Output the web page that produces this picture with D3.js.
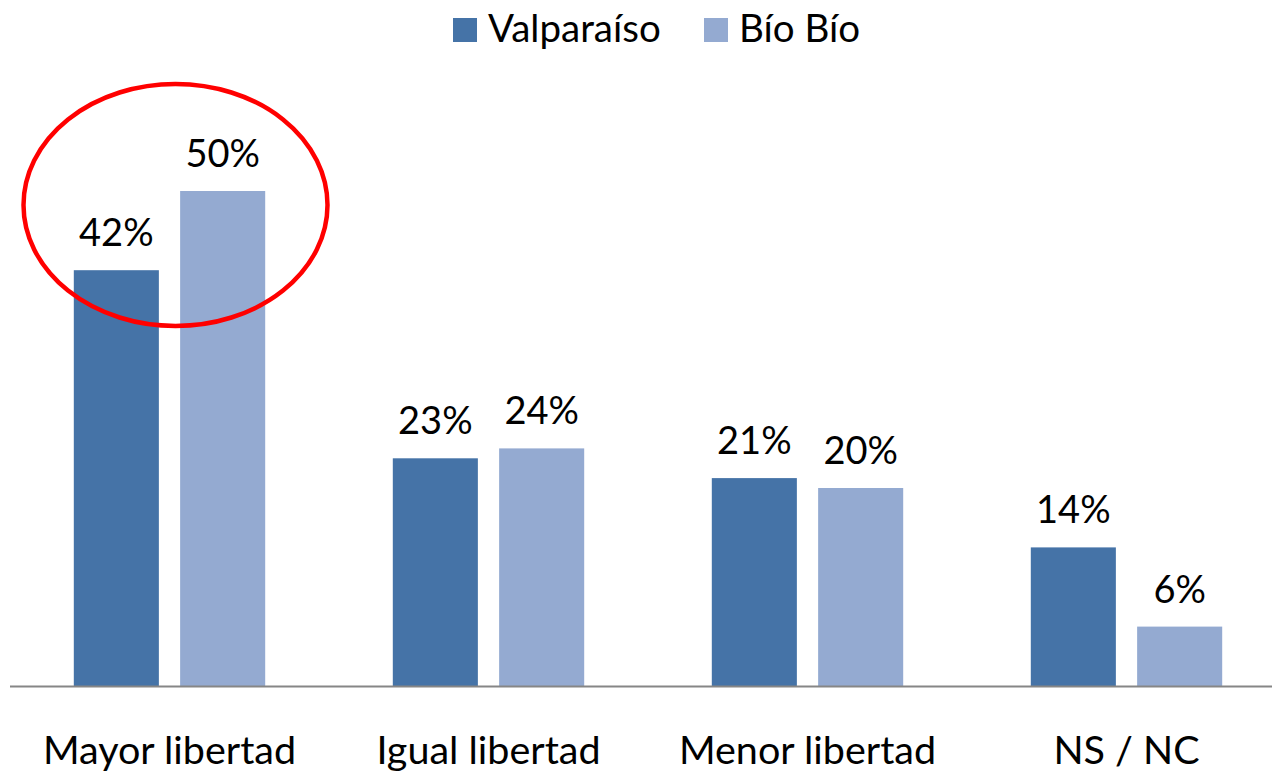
<!DOCTYPE html>
<meta charset="utf-8">
<style>
body{margin:0;background:#fff;}
svg{display:block;font-family:Lato, "Liberation Sans", sans-serif;}
.val{font-size:38px;fill:#000;text-anchor:middle;}
.cat text{font-size:39.5px;fill:#000;}
.leg{font-size:38.5px;fill:#000;}
</style>
<body>
<script src="https://cdnjs.cloudflare.com/ajax/libs/d3/7.8.5/d3.min.js"></script>
<script>

var categories = ["Mayor libertad", "Igual libertad", "Menor libertad", "NS / NC"];
var seriesNames = ["Valparaíso", "Bío Bío"];
var valparaiso = [42, 23, 21, 14];
var bioBio = [50, 24, 20, 6];
var colors = ["#4573a7", "#94aad1"];

var W = 1272, H = 775;
var svg = d3.select("body").append("svg").attr("width", W).attr("height", H);

var x0 = d3.scaleBand().domain(categories).range([10, 1286])
    .paddingInner(0.4).paddingOuter(0.2);
var x1 = d3.scaleBand().domain(seriesNames).range([0, x0.bandwidth()])
    .paddingInner(0.2);
var y = d3.scaleLinear().domain([0, 50]).range([686, 191]);

var rows = [];
categories.forEach(function(c, i){
    rows.push({cat: c, s: seriesNames[0], v: valparaiso[i]});
    rows.push({cat: c, s: seriesNames[1], v: bioBio[i]});
});

var g = svg.append("g");
g.selectAll("rect.bar").data(rows).enter().append("rect")
    .attr("class", "bar")
    .attr("x", d => x0(d.cat) + x1(d.s))
    .attr("y", d => y(d.v))
    .attr("width", x1.bandwidth())
    .attr("height", d => y(0) - y(d.v))
    .attr("fill", d => colors[seriesNames.indexOf(d.s)]);

g.selectAll("text.val").data(rows).enter().append("text")
    .attr("class", "val")
    .attr("x", d => x0(d.cat) + x1(d.s) + x1.bandwidth()/2)
    .attr("y", d => y(d.v) - 24)
    .text(d => d.v + "%");

// baseline + category labels
var ax = svg.append("g").attr("class", "cat")
    .attr("transform", "translate(0," + y(0) + ")")
    .call(d3.axisBottom(x0).tickSize(0).tickSizeOuter(0));
ax.select(".domain").remove();
ax.selectAll("text").attr("y", 78).attr("dy", 0)
    .style("font-family", "Lato, 'Liberation Sans', sans-serif");
svg.append("line")
    .attr("x1", 10).attr("x2", W)
    .attr("y1", y(0) + 0.5).attr("y2", y(0) + 0.5)
    .attr("stroke", "#868686").attr("stroke-width", 2);

// legend
var legX = [453, 704];
var leg = svg.selectAll("g.legend").data(seriesNames).enter().append("g")
    .attr("class", "legend")
    .attr("transform", (d, i) => "translate(" + legX[i] + ",0)");
leg.append("rect").attr("x", 0).attr("y", 18).attr("width", 24).attr("height", 24)
    .attr("fill", (d, i) => colors[i]);
leg.append("text").attr("class", "leg").attr("x", 35).attr("y", 42).text(d => d);

// red highlight round first group
var c0 = x0(categories[0]) + x0.bandwidth()/2;
svg.append("ellipse")
    .attr("cx", c0 + 6).attr("cy", 205)
    .attr("rx", 152).attr("ry", 121)
    .attr("fill", "none").attr("stroke", "#ff0000").attr("stroke-width", 4.5);
</script>
</body>
</html>
